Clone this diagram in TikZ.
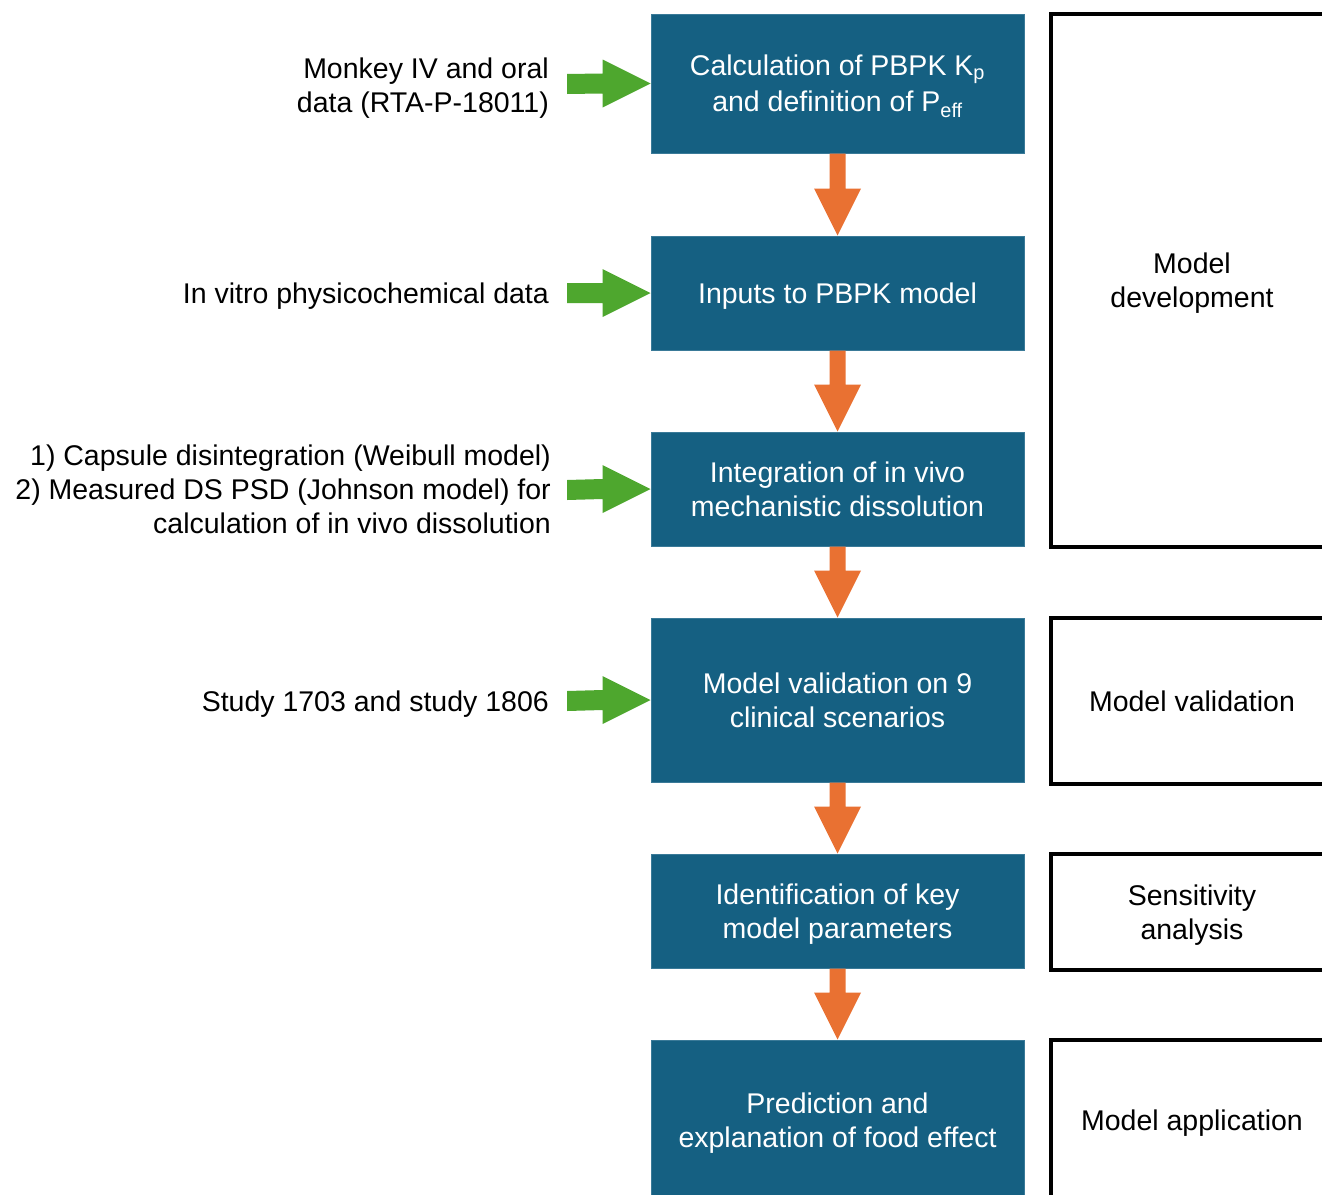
\documentclass[tikz,border=0pt]{standalone}
\usepackage{fontspec}
\setmainfont{Liberation Sans}
\usetikzlibrary{calc}
\definecolor{boxblue}{HTML}{156082}
\definecolor{boxedge}{HTML}{3A7A98}
\definecolor{arrorange}{HTML}{E97132}
\definecolor{arrgreen}{HTML}{4EA72E}
% strut: height 27.2pt, depth 6.8pt, keeps every text block visually centred
\newcommand{\ls}{\rule[-6.8pt]{0pt}{34pt}}
\tikzset{
  txt/.style={inner sep=0pt, font=\fontsize{28.5}{34}\selectfont},
  stepbox/.style={txt, fill=boxblue, draw=boxedge, line width=1pt, text=white, align=center,
    minimum width=373pt},
  phasebox/.style={txt, draw=black, line width=4.5pt, align=center, minimum width=282pt},
  sidetext/.style={txt, anchor=east, align=right},
}
\newcommand{\downarr}[2]{%
  \fill[arrorange] ($(#1.south)+(-8,0)$) -- ($(#2.north)+(-8,-47)$) -- ($(#2.north)+(-23.5,-47)$)
    -- (#2.north) -- ($(#2.north)+(23.5,-47)$) -- ($(#2.north)+(8,-47)$) -- ($(#1.south)+(8,0)$) -- cycle;}
\newcommand{\rightarr}[2]{%
  \fill[arrgreen] ($(#1)+(0,-10)$) -- ($(#2.west)+(-48,-10)$) -- ($(#2.west)+(-48,-24)$)
    -- (#2.west) -- ($(#2.west)+(-48,24)$) -- ($(#2.west)+(-48,10)$) -- ($(#1)+(0,10)$) -- cycle;}
\begin{document}
\begin{tikzpicture}[x=1pt,y=-1pt]
\clip (0,0) rectangle (1322,1194);
\fill[white] (0,0) rectangle (1322,1194);

% step boxes
\node[stepbox, minimum height=139pt] (b1) at (837.5,83.5) {\ls Calculation of PBPK K\textsubscript{p}\\and definition of P\textsubscript{eff}\ls};
\node[stepbox, minimum height=114pt] (b2) at (837.5,293) {\ls Inputs to PBPK model\ls};
\node[stepbox, minimum height=114pt] (b3) at (837.5,489) {\ls Integration of in vivo\\mechanistic dissolution\ls};
\node[stepbox, minimum height=164pt] (b4) at (837.5,700) {\ls Model validation on 9\\clinical scenarios\ls};
\node[stepbox, minimum height=114pt] (b5) at (837.5,911) {\ls Identification of key\\model parameters\ls};
\node[stepbox, minimum height=160pt] (b6) at (837.5,1120) {\ls Prediction and\\explanation of food effect\ls};

% orange arrows
\downarr{b1}{b2}
\downarr{b2}{b3}
\downarr{b3}{b4}
\downarr{b4}{b5}
\downarr{b5}{b6}

% left texts
\node[sidetext] (t1) at (549,85) {\ls Monkey IV and oral\\data (RTA-P-18011)\ls};
\node[sidetext] (t2) at (549,293) {\ls In vitro physicochemical data\ls};
\node[sidetext] (t3) at (551,489) {\ls 1) Capsule disintegration (Weibull model)\\2) Measured DS PSD (Johnson model) for\\calculation of in vivo dissolution\ls};
\node[sidetext] (t4) at (549,701) {\ls Study 1703 and study 1806\ls};

% green arrows
\coordinate (g1) at (567,84);
\coordinate (g2) at (567,293);
\coordinate (g3) at (567,490);
\coordinate (g4) at (567,701);
\rightarr{g1}{b1}
\rightarr{g2}{b2}
\rightarr{g3}{b3}
\rightarr{g4}{b4}

% phase boxes
\node[phasebox, minimum height=533pt] (p1) at (1192,280.5) {\ls Model\\development\ls};
\node[phasebox, minimum height=166pt] (p2) at (1192,701) {\ls Model validation\ls};
\node[phasebox, minimum height=116pt] (p3) at (1192,912) {\ls Sensitivity\\analysis\ls};
\node[phasebox, minimum height=160pt] (p4) at (1192,1120) {\ls Model application\ls};
\end{tikzpicture}
\end{document}
